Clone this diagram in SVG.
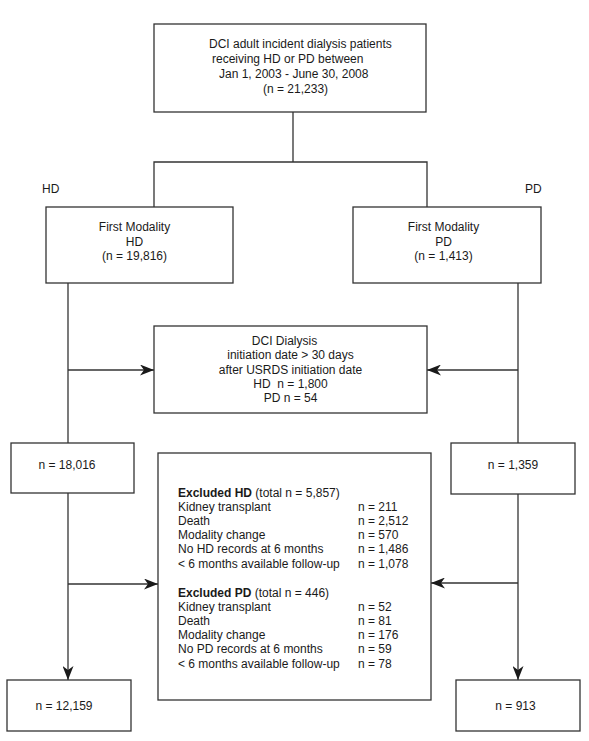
<svg xmlns="http://www.w3.org/2000/svg" width="589" height="741" viewBox="0 0 589 741">
<style>
  .box { fill: #ffffff; stroke: #333333; stroke-width: 1.3; }
  .t { font-family: "Liberation Sans", Arial, sans-serif; font-size: 12px; fill: #1a1a1a; }
  .c { text-anchor: middle; }
  .b { font-weight: bold; }
  .ln { fill: none; stroke: #333333; stroke-width: 1.3; }
</style>
<defs>
  <marker id="arr" viewBox="0 0 14 11" refX="14" refY="5.5" markerWidth="14" markerHeight="11" markerUnits="userSpaceOnUse" orient="auto">
    <path d="M0,0 L14,5.5 L0,11 L4,5.5 Z" fill="#1a1a1a"/>
  </marker>
</defs>
<rect width="589" height="741" fill="#ffffff"/>

<g id="connectors">
  <path class="ln" d="M154,207 V162 H427 V207 M293,112 V162"/>
  <path class="ln" d="M68,283 V443"/>
  <path class="ln" d="M68,370 H154" marker-end="url(#arr)"/>
  <path class="ln" d="M518,283 V444"/>
  <path class="ln" d="M518,370 H427" marker-end="url(#arr)"/>
  <path class="ln" d="M68,493 V680" marker-end="url(#arr)"/>
  <path class="ln" d="M68,584 H158" marker-end="url(#arr)"/>
  <path class="ln" d="M518,494 V680" marker-end="url(#arr)"/>
  <path class="ln" d="M518,583 H431" marker-end="url(#arr)"/>
</g>

<g id="start">
  <rect class="box" x="154" y="24" width="272" height="88"/>
  <text class="t" x="209" y="48">DCI adult incident dialysis patients</text>
  <text class="t" x="212" y="63">receiving HD or PD between</text>
  <text class="t" x="219" y="78">Jan 1, 2003 - June 30, 2008</text>
  <text class="t" x="263" y="92.5">(n = 21,233)</text>
</g>

<g id="label-hd"><text class="t" x="42" y="193">HD</text></g>
<g id="label-pd"><text class="t" x="525" y="193">PD</text></g>

<g id="first-hd">
  <rect class="box" x="46" y="207" width="187" height="76"/>
  <text class="t c" x="134.5" y="231">First Modality</text>
  <text class="t c" x="134.5" y="245.5">HD</text>
  <text class="t c" x="134.5" y="260">(n = 19,816)</text>
</g>

<g id="first-pd">
  <rect class="box" x="353" y="207" width="188" height="76"/>
  <text class="t c" x="443.5" y="231">First Modality</text>
  <text class="t c" x="443.5" y="245.5">PD</text>
  <text class="t c" x="443.5" y="260">(n = 1,413)</text>
</g>

<g id="late-start">
  <rect class="box" x="154" y="326" width="273" height="87"/>
  <text class="t c" x="284.5" y="345">DCI Dialysis</text>
  <text class="t c" x="290.5" y="359">initiation date &gt; 30 days</text>
  <text class="t c" x="290.5" y="373.5">after USRDS initiation date</text>
  <text class="t c" x="290.5" y="387.5" xml:space="preserve">HD  n = 1,800</text>
  <text class="t c" x="290.5" y="402">PD n = 54</text>
</g>

<g id="hd-mid">
  <rect class="box" x="11" y="443" width="123" height="50"/>
  <text class="t c" x="67" y="469">n = 18,016</text>
</g>

<g id="pd-mid">
  <rect class="box" x="451" y="443" width="124" height="51"/>
  <text class="t c" x="513" y="469">n = 1,359</text>
</g>

<g id="excluded">
  <rect class="box" x="158" y="453" width="273" height="247"/>
  <text class="t" x="178" y="497"><tspan class="b">Excluded HD</tspan> (total n = 5,857)</text>
  <text class="t" x="178" y="511">Kidney transplant</text>
  <text class="t" x="358" y="511">n = 211</text>
  <text class="t" x="178" y="525">Death</text>
  <text class="t" x="358" y="525">n = 2,512</text>
  <text class="t" x="178" y="539">Modality change</text>
  <text class="t" x="358" y="539">n = 570</text>
  <text class="t" x="178" y="553">No HD records at 6 months</text>
  <text class="t" x="358" y="553">n = 1,486</text>
  <text class="t" x="178" y="567.5">&lt; 6 months available follow-up</text>
  <text class="t" x="358" y="567.5">n = 1,078</text>
  <text class="t" x="178" y="597"><tspan class="b">Excluded PD</tspan> (total n = 446)</text>
  <text class="t" x="178" y="611">Kidney transplant</text>
  <text class="t" x="358" y="611">n = 52</text>
  <text class="t" x="178" y="625">Death</text>
  <text class="t" x="358" y="625">n = 81</text>
  <text class="t" x="178" y="639">Modality change</text>
  <text class="t" x="358" y="639">n = 176</text>
  <text class="t" x="178" y="653">No PD records at 6 months</text>
  <text class="t" x="358" y="653">n = 59</text>
  <text class="t" x="178" y="667.5">&lt; 6 months available follow-up</text>
  <text class="t" x="358" y="667.5">n = 78</text>
</g>

<g id="hd-final">
  <rect class="box" x="7" y="680" width="124" height="51"/>
  <text class="t c" x="64" y="710">n = 12,159</text>
</g>

<g id="pd-final">
  <rect class="box" x="456" y="680" width="124" height="51"/>
  <text class="t c" x="515.5" y="710">n = 913</text>
</g>
</svg>
